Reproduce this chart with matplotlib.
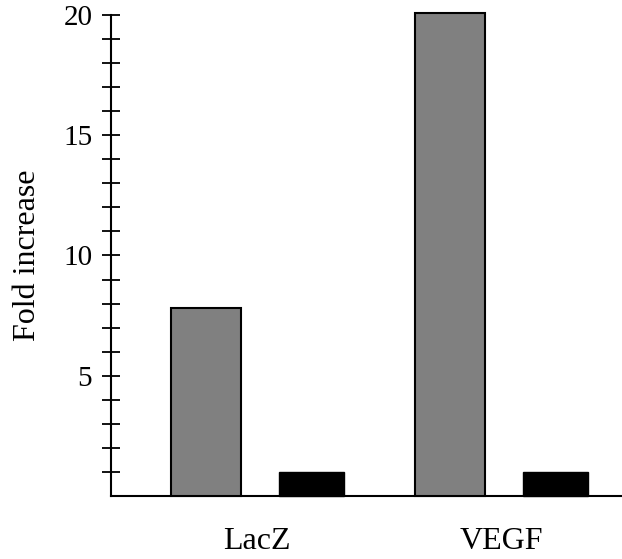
import matplotlib
matplotlib.use("Agg")
import matplotlib.pyplot as plt
import numpy as np

plt.rcParams['font.family'] = ['Liberation Serif', 'DejaVu Serif']

categories = ["LacZ", "VEGF"]
gray_values = [7.8, 20.1]
black_values = [1.0, 1.0]
ytick_labels = ["5", "10", "15", "20"]
ytick_values = [5, 10, 15, 20]

fig = plt.figure(figsize=(6.22, 5.59), dpi=100)
ax = fig.add_axes([0.1785, 0.1127, 0.8215, 0.8605])

x = np.arange(len(categories))
ax.bar(x - 0.21, gray_values, width=0.287, color="#808080",
       edgecolor="black", linewidth=1.5, clip_on=False, zorder=3)
ax.bar(x + 0.225, black_values, width=0.266, color="black",
       edgecolor="black", linewidth=1.0, clip_on=False, zorder=3)

ax.set_xlim(-0.598, 1.496)
ax.set_ylim(0, 20)

ax.spines['top'].set_visible(False)
ax.spines['right'].set_visible(False)
ax.spines['left'].set_linewidth(1.5)
ax.spines['bottom'].set_linewidth(1.5)

ax.set_yticks(ytick_values)
ax.set_yticklabels(ytick_labels)
ax.set_yticks(np.arange(1, 21), minor=True)
ax.tick_params(axis='y', which='both', direction='inout', length=13, width=1.3,
               labelsize=21, pad=7)

ax.set_xticks(x)
ax.set_xticklabels(categories)
ax.tick_params(axis='x', length=0, labelsize=23, pad=22)

ax.set_ylabel("Fold increase", fontsize=23)
ax.yaxis.set_label_coords(-0.135, 0.5)

fig.savefig("out.png", dpi=100)
